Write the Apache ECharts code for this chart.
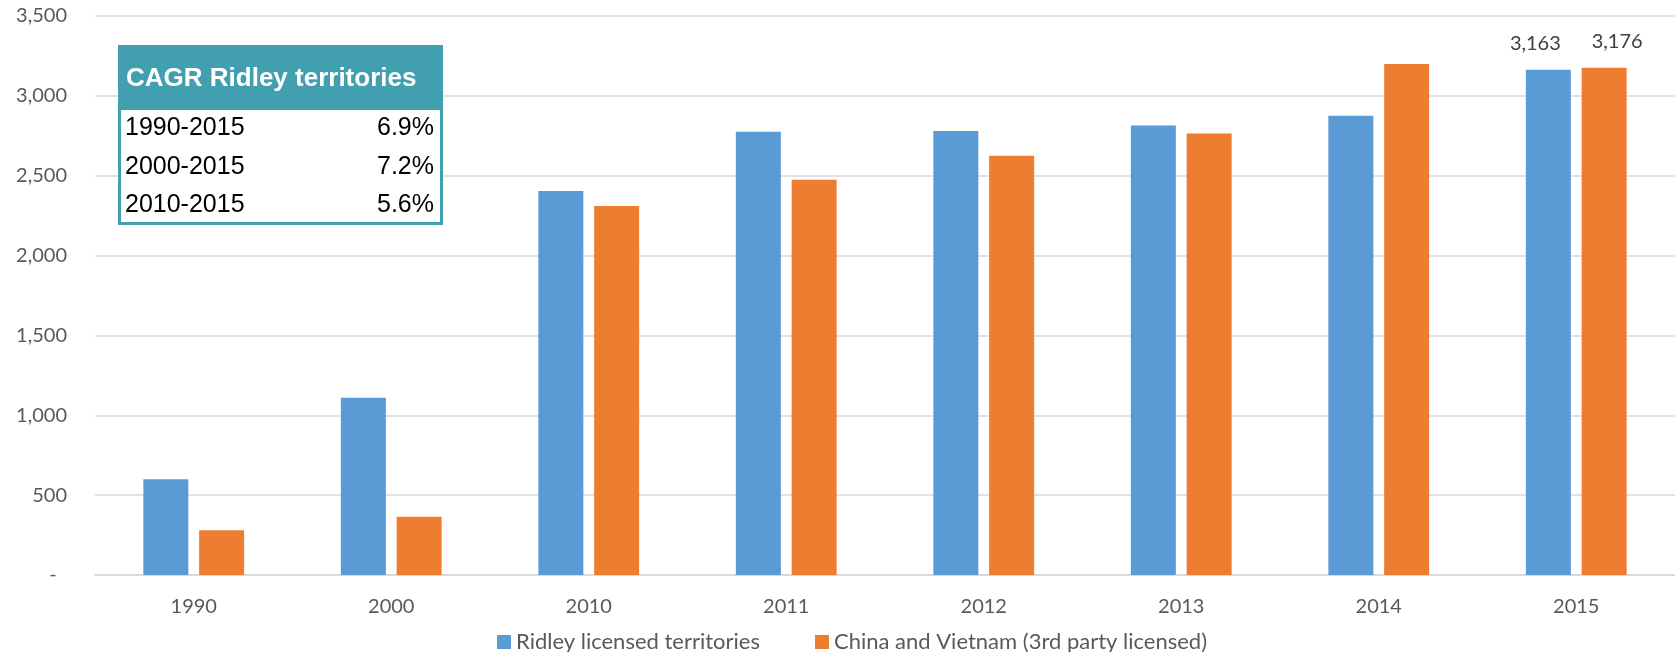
<!DOCTYPE html>
<html>
<head>
<meta charset="utf-8">
<script src="https://cdn.jsdelivr.net/npm/echarts@6/dist/echarts.min.js"></script>
<style>
html,body{margin:0;padding:0;background:#fff;}
#chart{width:1675px;height:652px;}
</style>
</head>
<body>
<div id="chart"></div>
<script>
// ---- data ----
const categories = ['1990','2000','2010','2011','2012','2013','2014','2015'];
const ridleyValues = [600, 1110, 2405, 2775, 2780, 2815, 2875, 3163];
const chinaValues  = [280, 365, 2310, 2475, 2625, 2765, 3200, 3176];
const seriesNames = ['Ridley licensed territories', 'China and Vietnam (3rd party licensed)'];
const cagrTitle = 'CAGR Ridley territories';
const cagrPeriods = ['1990-2015', '2000-2015', '2010-2015'];
const cagrValues = ['6.9%', '7.2%', '5.6%'];
const yTicks = { min: 0, max: 3500, interval: 500 };
const labelledIndex = 7;

// ---- styles ----
const BLUE = '#5B9BD5', ORANGE = '#ED7D31', TEAL = '#429FAF';
const FONT = 'Lato';
const TXT = '#595959';

function fmt(v){ return v.toLocaleString('en-US'); }

function withLabel(values, offsetX){
  return values.map((v, i) => i === labelledIndex ? {
    value: v,
    label: { show: true, position: 'top', distance: 16, offset: [offsetX, 0],
      formatter: p => fmt(p.value), fontFamily: FONT, fontSize: 20, color: '#404040' }
  } : v);
}

const graphics = [
  { type: 'rect', z: 100, shape: { x: 119.5, y: 46.5, width: 322, height: 177 },
    style: { fill: '#fff', stroke: TEAL, lineWidth: 3 } },
  { type: 'rect', z: 101, shape: { x: 118, y: 45, width: 325, height: 65 },
    style: { fill: TEAL } },
  { type: 'text', z: 102, x: 126, y: 79,
    style: { text: cagrTitle, fill: '#fff', font: 'bold 26px "Liberation Sans", Arial, sans-serif',
      verticalAlign: 'middle' } }
];
const rowY = [128.5, 167, 205.5];
cagrPeriods.forEach((p, i) => {
  graphics.push({ type: 'text', z: 102, x: 125, y: rowY[i],
    style: { text: p, fill: '#000', font: '25px "Liberation Sans", Arial, sans-serif',
      verticalAlign: 'middle' } });
  graphics.push({ type: 'text', z: 102, x: 434, y: rowY[i],
    style: { text: cagrValues[i], fill: '#000', font: '25px "Liberation Sans", Arial, sans-serif',
      align: 'right', verticalAlign: 'middle' } });
});

const chart = echarts.init(document.getElementById('chart'), null, { renderer: 'canvas' });
chart.setOption({
  animation: false,
  backgroundColor: '#fff',
  grid: { left: 95, right: 0, top: 16, bottom: 77, containLabel: false },
  legend: {
    left: 492, top: 626,
    itemWidth: 14, itemHeight: 14, itemGap: 55,
    icon: 'rect',
    textStyle: { fontFamily: FONT, fontSize: 22, color: TXT },
    data: seriesNames
  },
  xAxis: {
    type: 'category',
    data: categories,
    axisLine: { lineStyle: { color: '#D9D9D9', width: 2 } },
    axisTick: { show: false },
    axisLabel: { fontFamily: FONT, fontSize: 20, color: TXT, margin: 22 }
  },
  yAxis: {
    type: 'value',
    min: yTicks.min, max: yTicks.max, interval: yTicks.interval,
    axisLine: { show: false },
    axisTick: { show: false },
    splitLine: { lineStyle: { color: '#D9D9D9', width: 1.5 } },
    axisLabel: { fontFamily: FONT, fontSize: 20, color: TXT, margin: 28,
      formatter: v => v === 0 ? '-  ' : fmt(v) }
  },
  series: [
    { name: seriesNames[0], type: 'bar', data: withLabel(ridleyValues, -13),
      barWidth: 45, barGap: '24%', itemStyle: { color: BLUE } },
    { name: seriesNames[1], type: 'bar', data: withLabel(chinaValues, 13),
      barWidth: 45, barGap: '24%', itemStyle: { color: ORANGE } }
  ],
  graphic: graphics
});
</script>
</body>
</html>
